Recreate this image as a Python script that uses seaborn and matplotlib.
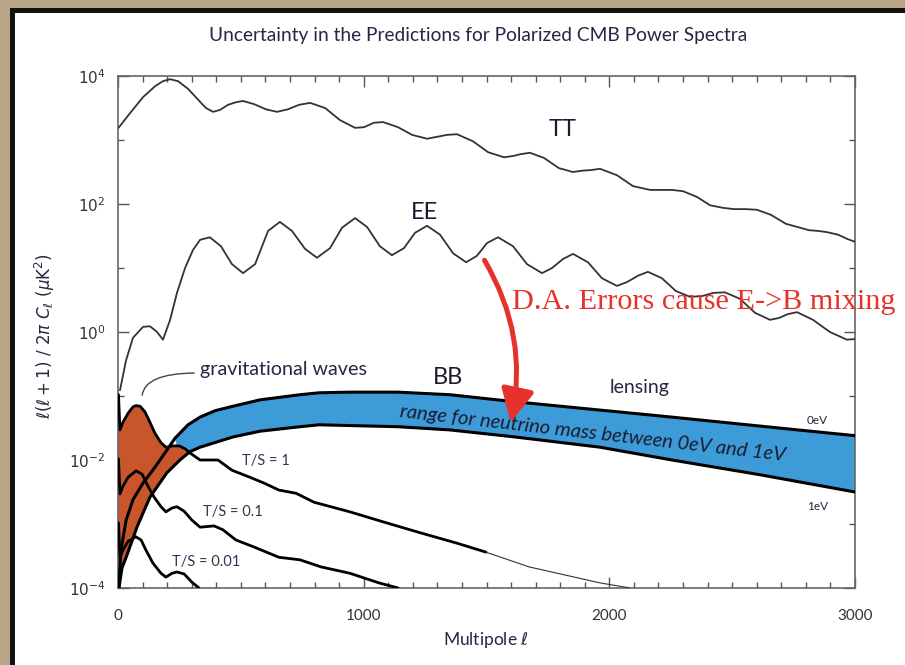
import numpy as np
import matplotlib
matplotlib.use("Agg")
import matplotlib.pyplot as plt
from matplotlib.patches import Rectangle, FancyArrowPatch
from matplotlib.ticker import FixedLocator, MultipleLocator, NullFormatter
import seaborn as sns

# ---- spectra: multipole ell and log10 of l(l+1)C_l/2pi in uK^2 ----
tt_ell = [2, 49, 102, 151, 183, 212, 244, 285, 326, 358, 387, 415, 448, 480, 509,
          554, 602, 647, 692, 737, 782, 843, 904, 965, 1001, 1042, 1079, 1140, 1197,
          1258, 1299, 1339, 1380, 1445, 1506, 1571, 1608, 1640, 1677, 1734, 1795,
          1852, 1889, 1925, 1962, 2031, 2096, 2166, 2210, 2255, 2300, 2357, 2410,
          2463, 2507, 2556, 2601, 2658, 2719, 2776, 2813, 2849, 2886, 2931, 2971, 3000]
tt_log = [3.19, 3.42, 3.67, 3.84, 3.92, 3.95, 3.92, 3.80, 3.63, 3.50, 3.44, 3.47,
          3.55, 3.59, 3.61, 3.56, 3.48, 3.44, 3.48, 3.55, 3.58, 3.50, 3.31, 3.19,
          3.20, 3.27, 3.28, 3.20, 3.08, 3.02, 3.05, 3.08, 3.09, 2.98, 2.81, 2.73,
          2.75, 2.78, 2.80, 2.72, 2.56, 2.50, 2.52, 2.53, 2.55, 2.45, 2.28, 2.22,
          2.22, 2.22, 2.20, 2.11, 1.98, 1.94, 1.92, 1.92, 1.91, 1.83, 1.69, 1.63,
          1.59, 1.58, 1.56, 1.52, 1.45, 1.41]

ee_ell = [8, 33, 61, 102, 130, 159, 183, 212, 240, 273, 305, 334, 374, 419, 464,
          509, 558, 611, 659, 708, 761, 810, 863, 912, 965, 1014, 1066, 1115, 1164,
          1209, 1258, 1311, 1364, 1417, 1461, 1502, 1547, 1608, 1665, 1726, 1767,
          1811, 1852, 1913, 1970, 2031, 2072, 2117, 2157, 2214, 2271, 2328, 2377,
          2422, 2470, 2531, 2593, 2654, 2691, 2727, 2764, 2829, 2898, 2967, 3000]
ee_log = [-0.91, -0.44, -0.09, 0.08, 0.09, 0.00, -0.12, 0.19, 0.61, 1.00, 1.28,
          1.44, 1.48, 1.34, 1.06, 0.92, 1.06, 1.58, 1.72, 1.58, 1.30, 1.16, 1.31,
          1.63, 1.78, 1.64, 1.34, 1.20, 1.31, 1.55, 1.66, 1.52, 1.23, 1.09, 1.19,
          1.39, 1.48, 1.34, 1.06, 0.92, 1.00, 1.14, 1.22, 1.09, 0.84, 0.72, 0.78,
          0.88, 0.94, 0.84, 0.64, 0.55, 0.56, 0.61, 0.62, 0.52, 0.30, 0.19, 0.22,
          0.28, 0.31, 0.19, 0.00, -0.12, -0.11]

# lensing B-modes: upper edge (0 eV) and lower edge (1 eV) of the neutrino-mass band
lens0_ell = [3, 12, 33, 61, 102, 151, 191, 232, 285, 334, 395, 468, 578, 741, 818,
             944, 1140, 1351, 1616, 1962, 2255, 2613, 3000]
lens0_log = [-4.00, -3.41, -2.94, -2.62, -2.36, -2.11, -1.89, -1.66, -1.45, -1.33,
             -1.23, -1.16, -1.06, -0.98, -0.95, -0.94, -0.94, -0.98, -1.09, -1.22,
             -1.33, -1.47, -1.62]
lens1_ell = [4, 16, 37, 77, 130, 199, 252, 293, 334, 468, 578, 741, 818, 1140, 1351,
             1616, 1962, 2255, 2613, 3000]
lens1_log = [-4.00, -3.69, -3.48, -3.05, -2.58, -2.20, -2.00, -1.87, -1.80, -1.64,
             -1.55, -1.48, -1.45, -1.48, -1.53, -1.64, -1.80, -2.00, -2.23, -2.50]

# primordial gravitational-wave B-modes for three tensor-to-scalar ratios
ts1_ell = [2, 8, 20, 41, 61, 73, 90, 110, 130, 150, 175, 195, 220, 250, 275, 293,
           334, 407, 464, 537, 594, 655, 725, 798, 944, 1091, 1233, 1380, 1498,
           1673, 1962, 2084]
ts1_log = [-0.98, -1.53, -1.41, -1.27, -1.17, -1.15, -1.16, -1.25, -1.41, -1.58,
           -1.73, -1.80, -1.78, -1.78, -1.83, -1.89, -2.00, -2.00, -2.16, -2.27,
           -2.36, -2.47, -2.52, -2.66, -2.81, -2.98, -3.14, -3.30, -3.44, -3.67,
           -3.92, -4.00]
ts01_ell = [2, 8, 20, 41, 73, 98, 122, 147, 175, 195, 220, 240, 269, 301, 334, 391,
            427, 480, 554, 655, 741, 826, 944, 1062, 1140]
ts01_log = [-1.98, -2.53, -2.41, -2.27, -2.17, -2.22, -2.41, -2.58, -2.73, -2.81,
            -2.75, -2.73, -2.80, -2.94, -3.05, -3.03, -3.09, -3.25, -3.36, -3.52,
            -3.56, -3.67, -3.77, -3.92, -4.00]
ts001_ell = [2, 8, 20, 41, 73, 94, 114, 142, 175, 195, 220, 240, 269, 301, 330]
ts001_log = [-2.98, -3.53, -3.41, -3.27, -3.20, -3.25, -3.41, -3.61, -3.77, -3.83,
             -3.77, -3.75, -3.78, -3.91, -4.00]

ts_labels = ["T/S = 1", "T/S = 0.1", "T/S = 0.01"]
y_ticks = [1e-4, 1e-2, 1e0, 1e2, 1e4]
y_ticklabels = [r"$10^{-4}$", r"$10^{-2}$", r"$10^{0}$", r"$10^{2}$", r"$10^{4}$"]
x_ticks = [0, 1000, 2000, 3000]

W, H = 905, 665
INK = "#2a2540"

sns.set_theme(style="ticks")
plt.rcParams["font.family"] = ["Lato", "DejaVu Sans"]
plt.rcParams["mathtext.fontset"] = "dejavusans"

fig = plt.figure(figsize=(W / 100, H / 100), dpi=100)
fig.patch.set_facecolor("#b7a788")
# slide panel: black frame and white card
fig.patches.append(Rectangle((10 / W, 0), 1, 1 - 8 / H, transform=fig.transFigure,
                             facecolor="#111111", edgecolor="none", zorder=-2))
fig.patches.append(Rectangle((15 / W, 0), 1, 1 - 13 / H, transform=fig.transFigure,
                             facecolor="white", edgecolor="none", zorder=-1))

ax = fig.add_axes([118 / W, 1 - 588 / H, (855 - 118) / W, (588 - 76) / H])
ax.set_facecolor("none")


def arr(v):
    return np.asarray(v, dtype=float)


def line(ell, logv, **kw):
    sns.lineplot(x=arr(ell), y=10 ** arr(logv), ax=ax, estimator=None, sort=False,
                 legend=False, solid_joinstyle="round", solid_capstyle="round", **kw)


# TT and EE
line(tt_ell, tt_log, color="#333333", lw=1.3, zorder=3)
line(ee_ell, ee_log, color="#333333", lw=1.3, zorder=3)

# blue band: lensing B-modes for neutrino masses 0-1 eV
l0e, l0v = arr(lens0_ell), arr(lens0_log)
l1e, l1v = arr(lens1_ell), arr(lens1_log)
m0, m1 = l0e >= 232, l1e >= 252
ax.fill(np.r_[l0e[m0], l1e[m1][::-1]], 10 ** np.r_[l0v[m0], l1v[m1][::-1]],
        color="#3d9bd8", lw=0, zorder=2)

# orange region under the gravitational-wave bump
te, tv = arr(ts1_ell), arr(ts1_log)
mt, ml = te <= 293, l1e <= 293
ax.fill(np.r_[0, te[mt], l1e[ml][::-1], 0], 10 ** np.r_[tv[0], tv[mt], l1v[ml][::-1], -4.0],
        color="#c9562a", lw=0, zorder=2.5)

# curve outlines
line(lens0_ell, lens0_log, color="black", lw=2.2, zorder=4)
line(lens1_ell, lens1_log, color="black", lw=2.2, zorder=4)
thick = te <= 1498
line(te[thick], tv[thick], color="black", lw=2.0, zorder=4)
line(te[te >= 1498], tv[te >= 1498], color="#333333", lw=0.8, zorder=4)
line(ts01_ell, ts01_log, color="black", lw=2.0, zorder=4)
line(ts001_ell, ts001_log, color="black", lw=2.0, zorder=4)

# axes
ax.set_yscale("log")
ax.set_xlim(0, 3000)
ax.set_ylim(1e-4, 1e4)
ax.set_yticks(y_ticks, y_ticklabels)
ax.yaxis.set_minor_locator(FixedLocator([1e-3, 1e-1, 1e1, 1e3]))
ax.yaxis.set_minor_formatter(NullFormatter())
ax.set_xticks(x_ticks, [str(v) for v in x_ticks])
ax.xaxis.set_minor_locator(MultipleLocator(100))
ax.tick_params(which="both", direction="in", top=True, right=True, color="#555555",
               labelcolor="#333333", labelsize=11, width=1)
ax.tick_params(which="major", length=8)
ax.tick_params(axis="x", which="major", pad=15)
ax.tick_params(axis="y", which="major", pad=9)
ax.tick_params(which="minor", length=4)
for s in ax.spines.values():
    s.set_color("#666666")
    s.set_linewidth(1.2)
ax.set_xlabel("")
ax.set_ylabel("")


def ftext(x, y, s, **kw):
    fig.text(x / W, 1 - y / H, s, **kw)


ftext(478, 35, "Uncertainty in the Predictions for Polarized CMB Power Spectra",
      ha="center", va="center", fontsize=13.8, color=INK)
ftext(486, 640, r"Multipole $\ell$", ha="center", va="center", fontsize=12.5, color=INK)
ftext(45, 336, r"$\ell(\ell+1)\ /\ 2\pi\ C_\ell\ (\mu\mathrm{K}^2)$", ha="center",
      va="center", rotation=90, fontsize=12, color=INK)

ftext(563, 130, "TT", ha="center", va="center", fontsize=17, color="#1c1c30")
ftext(424, 213, "EE", ha="center", va="center", fontsize=17, color="#1c1c30")
ftext(448, 378, "BB", ha="center", va="center", fontsize=17, color="#1c1c30")
ftext(640, 388, "lensing", ha="center", va="center", fontsize=14, color=INK)
ftext(200, 370, "gravitational waves", ha="left", va="center", fontsize=14.2, color=INK)
ftext(593, 434, "range for neutrino mass between 0eV and 1eV", ha="center",
      va="center", rotation=-6.5, fontsize=14.5, style="italic", color="#1c1c30")
ftext(817, 421, "0eV", ha="center", va="center", fontsize=8.5, color=INK)
ftext(818, 507, "1eV", ha="center", va="center", fontsize=8.5, color=INK)
for (x, y), s in zip([(266, 461), (233, 512), (206, 562)], ts_labels):
    ftext(x, y, s, ha="center", va="center", fontsize=10.5, color="#3a3050")

ftext(512, 302, "D.A. Errors cause E->B mixing", ha="left", va="center",
      fontsize=21.8, color="#e5322a", family=["Liberation Serif", "DejaVu Serif"])

# leader line to the gravitational-wave bump
fig.patches.append(FancyArrowPatch((197 / W, 1 - 373 / H), (142 / W, 1 - 398 / H),
                                   transform=fig.transFigure, arrowstyle="-",
                                   connectionstyle="angle3,angleA=0,angleB=90",
                                   color="#444444", lw=1.0, zorder=5))

# red arrow: E->B leakage into the lensing band
ax.add_patch(FancyArrowPatch((1486, 14.4), (1596, 0.035),
                             connectionstyle="arc3,rad=-0.2",
                             arrowstyle="-|>,head_length=1.0,head_width=0.5",
                             mutation_scale=20, color="#e5322a", lw=3.6, zorder=6))

fig.savefig("out.png", dpi=100)
